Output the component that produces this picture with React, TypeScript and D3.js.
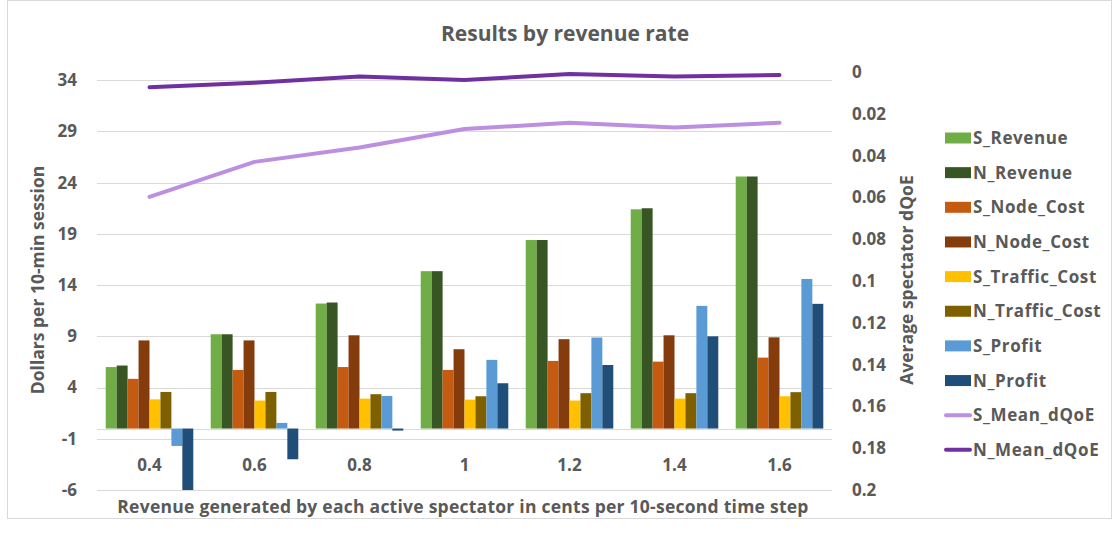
import React from 'react';
import * as d3 from 'd3';

const categories = ['0.4', '0.6', '0.8', '1', '1.2', '1.4', '1.6'];

const barSeries = ['S_Revenue', 'N_Revenue', 'S_Node_Cost', 'N_Node_Cost', 'S_Traffic_Cost', 'N_Traffic_Cost', 'S_Profit', 'N_Profit'];
const barColors = ['#70AD47', '#375623', '#C55A11', '#843C0C', '#FFC000', '#7F6000', '#5B9BD5', '#1F4E79'];

const sRevenue = [6.0, 9.2, 12.2, 15.36, 18.4, 21.4, 24.6];
const nRevenue = [6.15, 9.2, 12.3, 15.36, 18.4, 21.5, 24.6];
const sNodeCost = [4.85, 5.72, 6.0, 5.72, 6.6, 6.53, 6.92];
const nNodeCost = [8.6, 8.6, 9.1, 7.74, 8.72, 9.1, 8.9];
const sTrafficCost = [2.85, 2.73, 2.92, 2.82, 2.73, 2.92, 3.15];
const nTrafficCost = [3.57, 3.57, 3.35, 3.15, 3.45, 3.45, 3.55];
const sProfit = [-1.7, 0.55, 3.18, 6.7, 8.88, 11.97, 14.6];
const nProfit = [-6.1, -3.0, -0.2, 4.42, 6.2, 9.0, 12.17];

const sMeanDQoE = [0.0597, 0.043, 0.0361, 0.0273, 0.0243, 0.0265, 0.0243];
const nMeanDQoE = [0.0073, 0.0051, 0.0022, 0.0038, 0.001, 0.0022, 0.0014];

const lineSeries = ['S_Mean_dQoE', 'N_Mean_dQoE'];
const lineColors = ['#BC8FE0', '#7030A0'];

const leftTicks = [-6, -1, 4, 9, 14, 19, 24, 29, 34];
const rightTicks = [0, 0.02, 0.04, 0.06, 0.08, 0.1, 0.12, 0.14, 0.16, 0.18, 0.2];

const barValues = [sRevenue, nRevenue, sNodeCost, nNodeCost, sTrafficCost, nTrafficCost, sProfit, nProfit];
const lineValues = [sMeanDQoE, nMeanDQoE];

const W = 1116;
const H = 534;
const plot = { left: 97, right: 832, top: 72, bottom: 490 };
const textColor = '#595959';
const font = "'Open Sans', sans-serif";

export default function App() {
  const x0 = d3.scaleBand().domain(categories).range([plot.left, plot.right]).padding(0);
  const bw = x0.bandwidth();
  const x1 = d3.scaleBand().domain(barSeries).range([bw * 0.083, bw * 0.917]).padding(0);
  const yL = d3.scaleLinear().domain([-6, 34.8]).range([plot.bottom, plot.top]);
  const yR = d3.scaleLinear().domain([0, 0.2]).range([plot.top, plot.bottom]);

  const line = d3.line<number>()
    .x((_, i) => (x0(categories[i]) as number) + bw / 2)
    .y(d => yR(d))
    .curve(d3.curveLinear);

  return (
    <svg width={W} height={H} style={{ position: 'absolute', left: 0, top: 0 }}>
      <rect x={0} y={0} width={W} height={H} fill="#fff" />
      <rect x={7.5} y={0.5} width={1104} height={518} fill="none" stroke="#d9d9d9" />
      <defs>
        <clipPath id="plotClip">
          <rect x={plot.left} y={plot.top - 10} width={plot.right - plot.left} height={plot.bottom - plot.top + 10} />
        </clipPath>
      </defs>

      <text x={565} y={41} textAnchor="middle" fontFamily={font} fontWeight="bold" fontSize={21} fill={textColor}>
        Results by revenue rate
      </text>

      {/* gridlines */}
      {leftTicks.map(t => (
        <line key={t} x1={plot.left} x2={plot.right} y1={Math.round(yL(t)) + 0.5} y2={Math.round(yL(t)) + 0.5} stroke="#d9d9d9" strokeWidth={1} />
      ))}
      <line x1={plot.left} x2={plot.right} y1={Math.round(yL(0)) + 0.5} y2={Math.round(yL(0)) + 0.5} stroke="#d9d9d9" strokeWidth={1} />

      {/* bars */}
      <g clipPath="url(#plotClip)">
        {categories.map((c, ci) => (
          <g key={c} transform={`translate(${x0(c)},0)`}>
            {barSeries.map((s, si) => {
              const v = barValues[si][ci];
              const y = Math.min(yL(v), yL(0));
              const h = Math.abs(yL(v) - yL(0));
              return <rect key={s} x={x1(s)} y={y} width={x1.bandwidth()} height={h} fill={barColors[si]} />;
            })}
          </g>
        ))}
      </g>

      {/* lines */}
      {lineValues.map((vals, i) => (
        <path key={lineSeries[i]} d={line(vals) || ''} fill="none" stroke={lineColors[i]} strokeWidth={4} strokeLinejoin="round" strokeLinecap="round" />
      ))}

      {/* left axis labels */}
      {leftTicks.map(t => (
        <text key={t} x={77} y={yL(t)} dy="0.35em" textAnchor="end" fontFamily={font} fontWeight="bold" fontSize={17} fill={textColor}>
          {t}
        </text>
      ))}
      {/* right axis labels */}
      {rightTicks.map(t => (
        <text key={t} x={852} y={yR(t)} dy="0.35em" textAnchor="start" fontFamily={font} fontWeight="bold" fontSize={17} fill={textColor}>
          {d3.format('~g')(t)}
        </text>
      ))}
      {/* category labels */}
      {categories.map(c => (
        <text key={c} x={(x0(c) as number) + bw / 2} y={465} dy="0.35em" textAnchor="middle" fontFamily={font} fontWeight="bold" fontSize={17} fill={textColor}>
          {c}
        </text>
      ))}

      <text x={463} y={507} dy="0.35em" textAnchor="middle" fontFamily={font} fontWeight="bold" fontSize={17.5} letterSpacing={0.25} fill={textColor}>
        Revenue generated by each active spectator in cents per 10-second time step
      </text>
      <text transform={`translate(38,280) rotate(-90)`} dy="0.35em" textAnchor="middle" fontFamily={font} fontWeight="bold" fontSize={17.5} fill={textColor}>
        Dollars per 10-min session
      </text>
      <text transform={`translate(907,280) rotate(-90)`} dy="0.35em" textAnchor="middle" fontFamily={font} fontWeight="bold" fontSize={17.5} fill={textColor}>
        Average spectator dQoE
      </text>

      {/* legend */}
      {barSeries.map((s, i) => (
        <g key={s} transform={`translate(945,${138 + i * 34.65})`}>
          <rect x={0} y={-5.5} width={26} height={11} fill={barColors[i]} />
          <text x={28} y={0} dy="0.35em" fontFamily={font} fontWeight="bold" fontSize={17} letterSpacing={0.6} fill={textColor}>{s}</text>
        </g>
      ))}
      {lineSeries.map((s, i) => (
        <g key={s} transform={`translate(945,${138 + (i + 8) * 34.65})`}>
          <line x1={1} x2={25} y1={0} y2={0} stroke={lineColors[i]} strokeWidth={4} strokeLinecap="round" />
          <text x={28} y={0} dy="0.35em" fontFamily={font} fontWeight="bold" fontSize={17} letterSpacing={0.6} fill={textColor}>{s}</text>
        </g>
      ))}
    </svg>
  );
}
